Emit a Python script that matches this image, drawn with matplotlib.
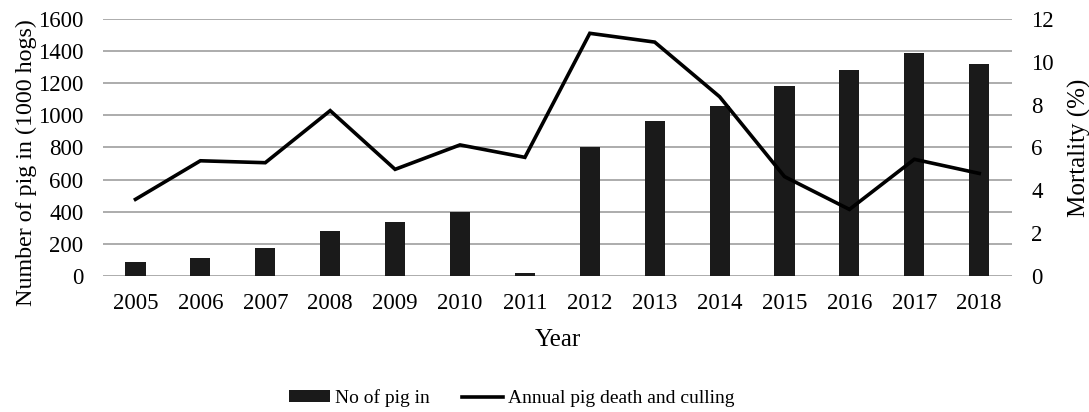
import numpy as np
import matplotlib.pyplot as plt

plt.rcParams['font.family'] = ['Liberation Serif', 'DejaVu Serif']

# pigs brought in (1000 hogs) and annual mortality (%)
years = ['2005', '2006', '2007', '2008', '2009', '2010', '2011',
         '2012', '2013', '2014', '2015', '2016', '2017', '2018']
pigs_in = [88, 110, 172, 282, 334, 400, 20,
           801, 965, 1058, 1183, 1285, 1387, 1318]
mortality = [3.58, 5.38, 5.29, 7.72, 4.98, 6.12, 5.54,
             11.33, 10.92, 8.37, 4.64, 3.11, 5.45, 4.79]

x = np.arange(len(years))

fig = plt.figure(figsize=(10.89, 4.12), dpi=100)
ax = fig.add_axes([0.0946, 0.330, 0.8344, 0.624])
ax2 = ax.twinx()

ax.set_axisbelow(True)
ax.yaxis.grid(True, color='#a6a6a6', lw=1.3)
bars = ax.bar(x, pigs_in, width=0.31, color='#1a1a1a', label='No of pig in', zorder=2)
line, = ax2.plot(x, mortality, color='black', lw=2.6, label='Annual pig death and culling',
                 solid_joinstyle='miter')

ax.set_xlim(-0.5, len(years) - 0.5)
ax.set_ylim(0, 1600)
ax.set_yticks(np.arange(0, 1601, 200))
ax2.set_ylim(0, 12)
ax2.set_yticks(np.arange(0, 13, 2))
ax.set_xticks(x)
ax.set_xticklabels(years)

for a in (ax, ax2):
    for s in a.spines.values():
        s.set_visible(False)
    a.tick_params(length=0, labelsize=16.5)
ax.tick_params(axis='x', pad=12)
ax.tick_params(axis='y', pad=14)
ax2.tick_params(axis='y', pad=14)

ax.set_xlabel('Year', fontsize=18, labelpad=11)
ax.set_ylabel('Number of pig in (1000 hogs)', fontsize=17.3)
ax.yaxis.set_label_coords(-0.073, 0.44)
ax2.set_ylabel('Mortality (%)', fontsize=18, labelpad=10)

fig.legend([bars, line], ['No of pig in', 'Annual pig death and culling'],
           loc='center', bbox_to_anchor=(0.47, 0.034), ncol=2, frameon=False,
           fontsize=14, handlelength=2.1, handleheight=0.5,
           handletextpad=0.25, columnspacing=1.7)

fig.savefig('out.png', dpi=100)
